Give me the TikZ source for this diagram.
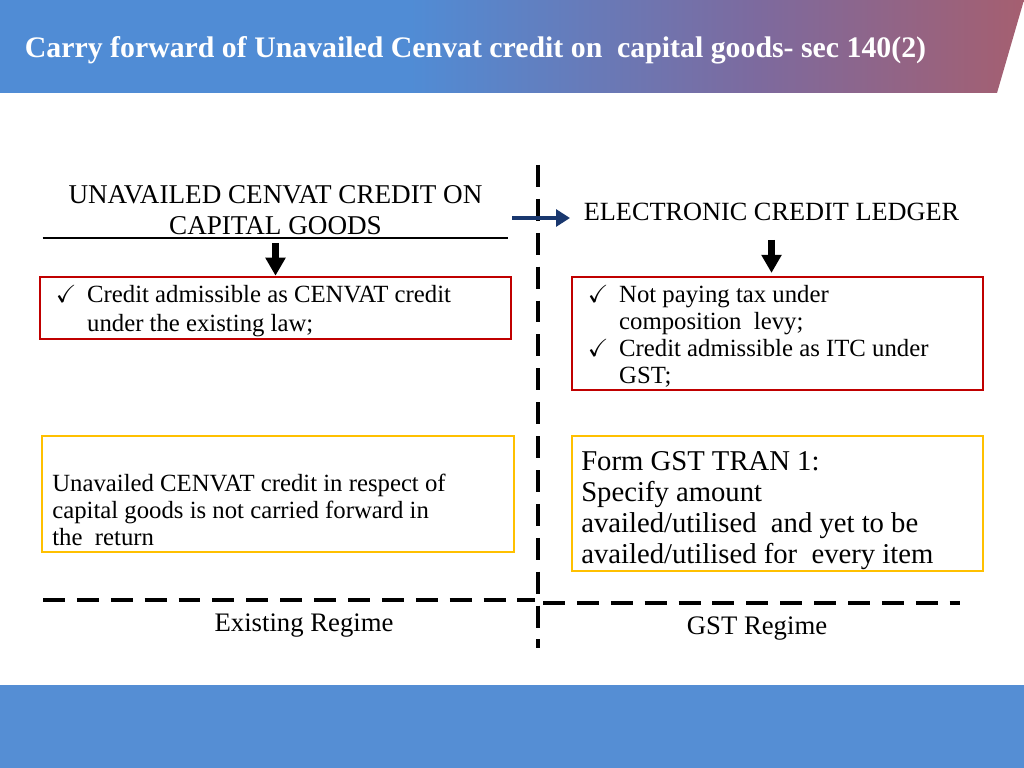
\documentclass[tikz,border=0pt]{standalone}
\usepackage{fontspec}
\setmainfont{Liberation Serif}
\usepackage{amssymb}
\usepackage{xcolor}
\usepackage{tikz}
\usetikzlibrary{arrows.meta}
\definecolor{titleblue}{RGB}{80,140,213}
\definecolor{titlepurple}{RGB}{125,106,158}
\definecolor{titlemauve}{RGB}{165,95,112}
\definecolor{bandblue}{RGB}{85,142,212}
\definecolor{boxred}{RGB}{192,0,0}
\definecolor{boxyellow}{RGB}{255,192,0}
\definecolor{arrownavy}{RGB}{25,55,110}
\pgfdeclarehorizontalshading{titleshade}{100bp}{color(0bp)=(titleblue); color(45bp)=(titleblue); color(62bp)=(titlepurple); color(75bp)=(titlemauve); color(100bp)=(titlemauve)}
\newcommand{\chkmark}{\makebox[0.78cm][l]{$\checkmark$}}
\newcommand{\chkgap}{\hspace*{0.78cm}}
\newcommand{\toplift}{\rule{0pt}{16.5pt}}
\tikzstyle{heading} = [font=\fontsize{19.3}{22}\selectfont, align=center, inner ysep=2pt]
\tikzstyle{redbox} = [rectangle, draw=boxred, line width=1.8pt, align=flush left, inner xsep=0.4cm, inner ysep=1pt, font=\fontsize{17.6}{20.6}\selectfont]
\tikzstyle{yellowbox} = [rectangle, draw=boxyellow, line width=2pt]
\tikzstyle{notetext} = [align=flush left, inner sep=0pt, font=\fontsize{17.6}{19.2}\selectfont]
\tikzstyle{regime} = [font=\fontsize{19}{22}\selectfont]
\tikzstyle{downarrow} = [line width=5pt, -{Triangle[width=0.48cm,length=0.45cm]}]
\tikzstyle{bluearrow} = [draw=arrownavy, line width=3.5pt, -{Triangle[width=0.42cm,length=0.35cm]}]
\tikzstyle{divider} = [line width=2.2pt, dash pattern=on 15.6pt off 8.5pt]

\begin{document}
\begin{tikzpicture}[x=0.025cm, y=-0.025cm]
    \useasboundingbox (0,0) rectangle (1024,768);

    % Bands
    \shade[shading=titleshade] (0,0) -- (1024,0) -- (997,93) -- (0,93) -- cycle;
    \fill[bandblue] (0,685) rectangle (1024,768);
    \node (title) [anchor=west, text=white, font=\bfseries\fontsize{21.2}{24}\selectfont] at (20,50) {Carry forward of Unavailed Cenvat credit on\ \ capital goods- sec 140(2)};

    % Dividers
    \draw [divider] (538,165) -- (538,648);
    \draw [divider] (43,600) -- (535,600);
    \draw [divider] (543,603) -- (960,603);

    % Nodes
    \node (oldhead) [heading, anchor=south, minimum width=11.625cm] at (275.5,238) {UNAVAILED CENVAT CREDIT ON\\CAPITAL GOODS};
    \node (ledger) [heading, font=\fontsize{18.7}{22}\selectfont] at (771.5,212) {ELECTRONIC CREDIT LEDGER};
    \node (oldcond) [redbox, minimum width=11.775cm, minimum height=1.55cm, text width=10.975cm] at (275.5,308) {\toplift\chkmark Credit admissible as CENVAT credit\\ \chkgap under the existing law;};
    \node (newcond) [redbox, minimum width=10.275cm, minimum height=2.825cm, text width=9.475cm, font=\fontsize{17.6}{19.2}\selectfont] at (777.5,333.5) {\toplift\chkmark Not paying tax under\\ \chkgap composition\ \ levy;\\ \chkmark Credit admissible as ITC under\\ \chkgap GST;};
    \node (oldnote) [yellowbox, minimum width=11.8cm, minimum height=2.9cm] at (278,494) {};
    \node (oldnotetext) [notetext, anchor=west] at (52,510) {Unavailed CENVAT credit in respect of\\capital goods is not carried forward in\\the\ \ return};
    \node (newnote) [yellowbox, minimum width=10.275cm, minimum height=3.375cm] at (777.5,503.5) {};
    \node (newnotetext) [notetext, anchor=west, font=\fontsize{20.4}{22}\selectfont] at (581,510.5) {Form GST TRAN 1:\\Specify amount\\availed/utilised\ \ and yet to be\\availed/utilised for\ \ every item};
    \node (oldregime) [regime] at (304,626) {Existing Regime};
    \node (newregime) [regime] at (757,629) {GST Regime};
    \coordinate (shiftstart) at (512,218);

    % Arrows
    \draw [downarrow, shorten <=0.12cm] (oldhead.south) -- (oldhead.south |- oldcond.north);
    \draw [downarrow, shorten <=0.4cm, shorten >=2pt] (ledger.south) -- (ledger.south |- newcond.north);
    \draw [bluearrow, shorten >=0.22cm] (shiftstart) -- (shiftstart -| ledger.west);
    \draw [line width=1.2pt] (oldhead.south west) -- (oldhead.south east);

\end{tikzpicture}
\end{document}
